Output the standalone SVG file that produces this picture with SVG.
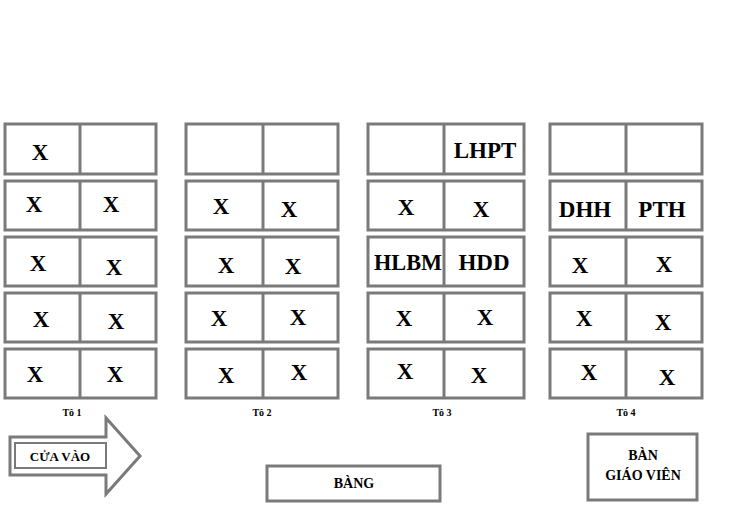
<svg xmlns="http://www.w3.org/2000/svg" width="735" height="530" viewBox="0 0 735 530" font-family="Liberation Serif, Times New Roman, serif" font-weight="bold" text-anchor="middle">
<style>
.desk{fill:#fff;stroke:#7a7a7a;stroke-width:3}
.div{stroke:#7a7a7a;stroke-width:3}
.t{font-size:23px}
.s{font-size:10px}
.m{font-size:14px}
</style>
<rect width="735" height="530" fill="#fff"/>
<g id="to1">
<g id="d11"><rect class="desk" x="5" y="124" width="151" height="50"/><line class="div" x1="80" y1="124" x2="80" y2="174"/><text class="t" x="40" y="160">X</text></g>
<g id="d12"><rect class="desk" x="5" y="181" width="151" height="49"/><line class="div" x1="80" y1="181" x2="80" y2="230"/><text class="t" x="34" y="212">X</text><text class="t" x="111" y="212">X</text></g>
<g id="d13"><rect class="desk" x="5" y="237" width="151" height="49"/><line class="div" x1="80" y1="237" x2="80" y2="286"/><text class="t" x="38" y="271">X</text><text class="t" x="114" y="275">X</text></g>
<g id="d14"><rect class="desk" x="5" y="293" width="151" height="49"/><line class="div" x1="80" y1="293" x2="80" y2="342"/><text class="t" x="41" y="327">X</text><text class="t" x="116" y="329">X</text></g>
<g id="d15"><rect class="desk" x="5" y="349" width="151" height="49"/><line class="div" x1="80" y1="349" x2="80" y2="398"/><text class="t" x="35" y="382">X</text><text class="t" x="115" y="382">X</text></g>
<text class="s" x="72" y="416">Tô 1</text>
</g>
<g id="to2">
<g id="d21"><rect class="desk" x="186" y="124" width="152" height="50"/><line class="div" x1="263" y1="124" x2="263" y2="174"/></g>
<g id="d22"><rect class="desk" x="186" y="181" width="152" height="49"/><line class="div" x1="263" y1="181" x2="263" y2="230"/><text class="t" x="221" y="214">X</text><text class="t" x="289" y="217">X</text></g>
<g id="d23"><rect class="desk" x="186" y="237" width="152" height="49"/><line class="div" x1="263" y1="237" x2="263" y2="286"/><text class="t" x="226" y="273">X</text><text class="t" x="293" y="274">X</text></g>
<g id="d24"><rect class="desk" x="186" y="293" width="152" height="49"/><line class="div" x1="263" y1="293" x2="263" y2="342"/><text class="t" x="219" y="326">X</text><text class="t" x="298" y="325">X</text></g>
<g id="d25"><rect class="desk" x="186" y="349" width="152" height="49"/><line class="div" x1="263" y1="349" x2="263" y2="398"/><text class="t" x="226" y="383">X</text><text class="t" x="299" y="380">X</text></g>
<text class="s" x="262" y="416">Tô 2</text>
</g>
<g id="to3">
<g id="d31"><rect class="desk" x="368" y="124" width="156" height="50"/><line class="div" x1="444" y1="124" x2="444" y2="174"/><text class="t" x="485" y="158">LHPT</text></g>
<g id="d32"><rect class="desk" x="368" y="181" width="156" height="49"/><line class="div" x1="444" y1="181" x2="444" y2="230"/><text class="t" x="406" y="215">X</text><text class="t" x="481" y="217">X</text></g>
<g id="d33"><rect class="desk" x="368" y="237" width="156" height="49"/><line class="div" x1="444" y1="237" x2="444" y2="286"/><text class="t" x="408" y="270" textLength="68" lengthAdjust="spacingAndGlyphs">HLBM</text><text class="t" x="484" y="270">HDD</text></g>
<g id="d34"><rect class="desk" x="368" y="293" width="156" height="49"/><line class="div" x1="444" y1="293" x2="444" y2="342"/><text class="t" x="404" y="326">X</text><text class="t" x="485" y="325">X</text></g>
<g id="d35"><rect class="desk" x="368" y="349" width="156" height="49"/><line class="div" x1="444" y1="349" x2="444" y2="398"/><text class="t" x="405" y="379">X</text><text class="t" x="479" y="383">X</text></g>
<text class="s" x="442" y="416">Tô 3</text>
</g>
<g id="to4">
<g id="d41"><rect class="desk" x="550" y="124" width="152" height="50"/><line class="div" x1="626" y1="124" x2="626" y2="174"/></g>
<g id="d42"><rect class="desk" x="550" y="181" width="152" height="49"/><line class="div" x1="626" y1="181" x2="626" y2="230"/><text class="t" x="585" y="217">DHH</text><text class="t" x="662" y="217">PTH</text></g>
<g id="d43"><rect class="desk" x="550" y="237" width="152" height="49"/><line class="div" x1="626" y1="237" x2="626" y2="286"/><text class="t" x="580" y="273">X</text><text class="t" x="664" y="272">X</text></g>
<g id="d44"><rect class="desk" x="550" y="293" width="152" height="49"/><line class="div" x1="626" y1="293" x2="626" y2="342"/><text class="t" x="584" y="326">X</text><text class="t" x="663" y="330">X</text></g>
<g id="d45"><rect class="desk" x="550" y="349" width="152" height="49"/><line class="div" x1="626" y1="349" x2="626" y2="398"/><text class="t" x="589" y="380">X</text><text class="t" x="667" y="385">X</text></g>
<text class="s" x="626" y="416">Tô 4</text>
</g>
<g id="cua-vao">
<polygon points="10,437 106,437 106,418 140,456 106,494 106,475 10,475" fill="#fff" stroke="#7a7a7a" stroke-width="3"/>
<rect x="15" y="443" width="91" height="25" fill="#fff" stroke="#7a7a7a" stroke-width="2"/>
<text class="m" x="60" y="461" style="font-size:13px">CỬA VÀO</text>
</g>
<g id="bang">
<rect x="267" y="466" width="173" height="35" fill="#fff" stroke="#7a7a7a" stroke-width="3"/>
<text class="m" x="354" y="488">BÀNG</text>
</g>
<g id="ban-giao-vien">
<rect x="588" y="434" width="109" height="66" fill="#fff" stroke="#7a7a7a" stroke-width="3"/>
<text class="m" x="643" y="460">BÀN</text>
<text class="m" x="643" y="480">GIÁO VIÊN</text>
</g>
</svg>
